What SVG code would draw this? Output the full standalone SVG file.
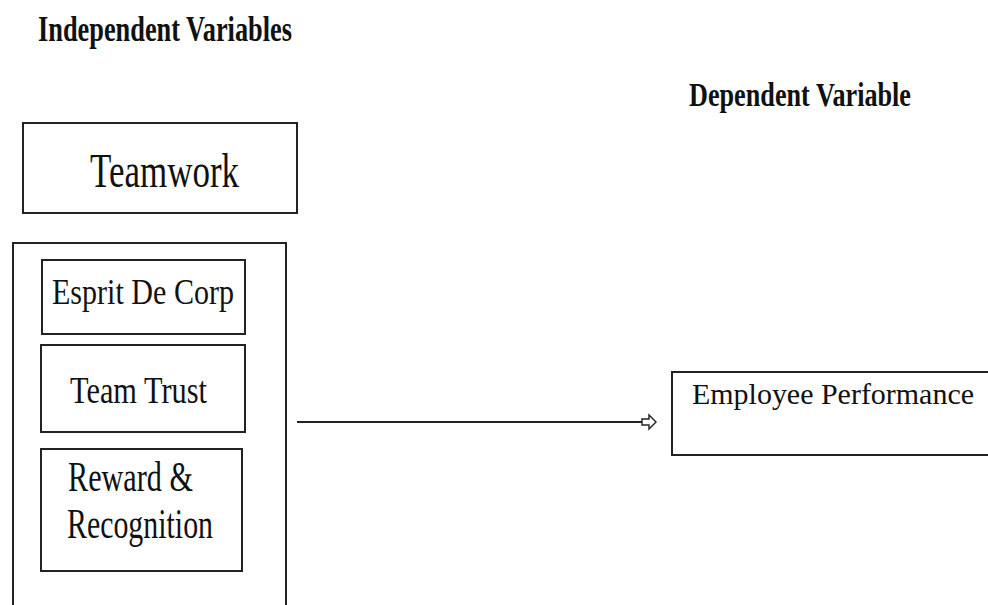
<svg xmlns="http://www.w3.org/2000/svg" width="988" height="605" viewBox="0 0 988 605">
<style>
.box{fill:#fff;stroke:#222;stroke-width:2}
.t{font-family:"Liberation Serif","Times New Roman",serif;fill:#111}
.h{font-family:"Liberation Serif","Times New Roman",serif;font-weight:bold;fill:#111}
.ln{stroke:#222;stroke-width:2;fill:none}
</style>
<defs>
<marker id="ah" viewBox="0 0 16 18" refX="1" refY="9" markerWidth="16" markerHeight="18" markerUnits="userSpaceOnUse" orient="auto">
<path d="M1,6 H8 V2 L15,9 L8,16 V12 H1 Z" fill="#fff" stroke="#222" stroke-width="1.4"/>
</marker>
</defs>
<rect width="988" height="605" fill="#fff"/>
<g id="title-independent"><text class="h" x="38" y="41" font-size="36" textLength="254" lengthAdjust="spacingAndGlyphs">Independent Variables</text></g>
<g id="title-dependent"><text class="h" x="689" y="106" font-size="34" textLength="222" lengthAdjust="spacingAndGlyphs">Dependent Variable</text></g>
<g id="teamwork"><rect class="box" x="23" y="123" width="274" height="90"/><text class="t" x="90" y="187" font-size="48" textLength="149" lengthAdjust="spacingAndGlyphs">Teamwork</text></g>
<g id="group"><path class="ln" d="M13,610 V243 H286 V610"/></g>
<g id="esprit"><rect class="box" x="42" y="260" width="203" height="74"/><text class="t" x="52" y="304" font-size="36" textLength="182" lengthAdjust="spacingAndGlyphs">Esprit De Corp</text></g>
<g id="trust"><rect class="box" x="41" y="345" width="204" height="87"/><text class="t" x="70" y="403" font-size="38" textLength="137" lengthAdjust="spacingAndGlyphs">Team Trust</text></g>
<g id="reward"><rect class="box" x="41" y="449" width="201" height="122"/><text class="t" x="68" y="491" font-size="42" textLength="125" lengthAdjust="spacingAndGlyphs">Reward &amp;</text><text class="t" x="67" y="538" font-size="42" textLength="146" lengthAdjust="spacingAndGlyphs">Recognition</text></g>
<g id="performance"><path class="ln" d="M990,372 H672 V455 H990"/><text class="t" x="692" y="404" font-size="30" textLength="282" lengthAdjust="spacingAndGlyphs">Employee Performance</text></g>
<g id="connectors"><line class="ln" x1="297" y1="422" x2="642" y2="422" marker-end="url(#ah)"/></g>
</svg>
